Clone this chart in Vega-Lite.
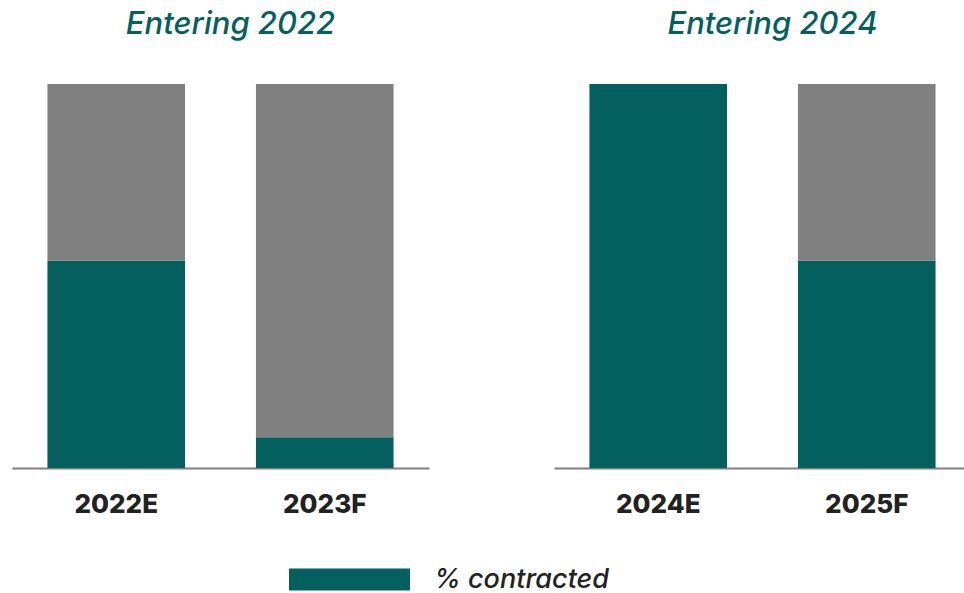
{
  "$schema": "https://vega.github.io/schema/vega-lite/v6.json",
  "background": "white",
  "padding": {"left": 12, "top": 9, "right": 0, "bottom": 0},
  "data": {"values": [
    {"panel": "Entering 2022", "year": "2022E", "category": "% contracted", "value": 54, "ord": 1},
    {"panel": "Entering 2022", "year": "2022E", "category": "remaining", "value": 46, "ord": 2},
    {"panel": "Entering 2022", "year": "2023F", "category": "% contracted", "value": 8, "ord": 1},
    {"panel": "Entering 2022", "year": "2023F", "category": "remaining", "value": 92, "ord": 2},
    {"panel": "Entering 2024", "year": "2024E", "category": "% contracted", "value": 100, "ord": 1},
    {"panel": "Entering 2024", "year": "2024E", "category": "remaining", "value": 0, "ord": 2},
    {"panel": "Entering 2024", "year": "2025F", "category": "% contracted", "value": 54, "ord": 1},
    {"panel": "Entering 2024", "year": "2025F", "category": "remaining", "value": 46, "ord": 2}
  ]},
  "spacing": 125,
  "hconcat": [
    {
      "title": {"text": "Entering 2022"},
      "width": 417,
      "height": 384,
      "transform": [{"filter": "datum.panel === 'Entering 2022'"}],
      "mark": {"type": "bar"},
      "encoding": {
        "x": {"field": "year", "type": "nominal", "title": null, "scale": {"paddingInner": 0.34, "paddingOuter": 0.17}},
        "y": {"field": "value", "type": "quantitative", "stack": "zero", "scale": {"domain": [0, 100]}, "axis": null},
        "color": {
          "field": "category",
          "type": "nominal",
          "scale": {"domain": ["% contracted", "remaining"], "range": ["#03605F", "#808080"]},
          "legend": {
            "values": ["% contracted"],
            "title": null,
            "orient": "none",
            "legendX": 324,
            "legendY": 482,
            "padding": 0,
            "symbolType": "M-5.5,-1H5.5V1H-5.5Z",
            "symbolSize": 484,
            "symbolStrokeWidth": 0,
            "symbolOpacity": 1,
            "labelFont": "Inter",
            "labelFontSize": 27,
            "labelFontStyle": "italic",
            "labelFontWeight": 500,
            "labelColor": "#222222",
            "labelOffset": 71,
            "labelLimit": 400
          }
        },
        "order": {"field": "ord", "type": "quantitative"}
      }
    },
    {
      "title": {"text": "Entering 2024"},
      "width": 417,
      "height": 384,
      "transform": [{"filter": "datum.panel === 'Entering 2024'"}],
      "mark": {"type": "bar"},
      "encoding": {
        "x": {"field": "year", "type": "nominal", "title": null, "scale": {"paddingInner": 0.34, "paddingOuter": 0.17}},
        "y": {"field": "value", "type": "quantitative", "stack": "zero", "scale": {"domain": [0, 100]}, "axis": null},
        "color": {"field": "category", "type": "nominal"},
        "order": {"field": "ord", "type": "quantitative"}
      }
    }
  ],
  "resolve": {"scale": {"x": "independent", "y": "independent"}},
  "config": {
    "view": {"stroke": null},
    "title": {
      "font": "Inter",
      "fontSize": 31,
      "fontStyle": "italic",
      "fontWeight": 500,
      "color": "#03605F",
      "anchor": "middle",
      "baseline": "alphabetic",
      "offset": 43,
      "dx": 10
    },
    "axisX": {
      "grid": false,
      "labelAngle": 0,
      "ticks": false,
      "tickSize": 0,
      "labelPadding": 23,
      "labelFont": "Inter",
      "labelFontSize": 26,
      "labelFontWeight": 800,
      "labelColor": "#222222",
      "domainColor": "#808080",
      "domainWidth": 2
    }
  }
}
